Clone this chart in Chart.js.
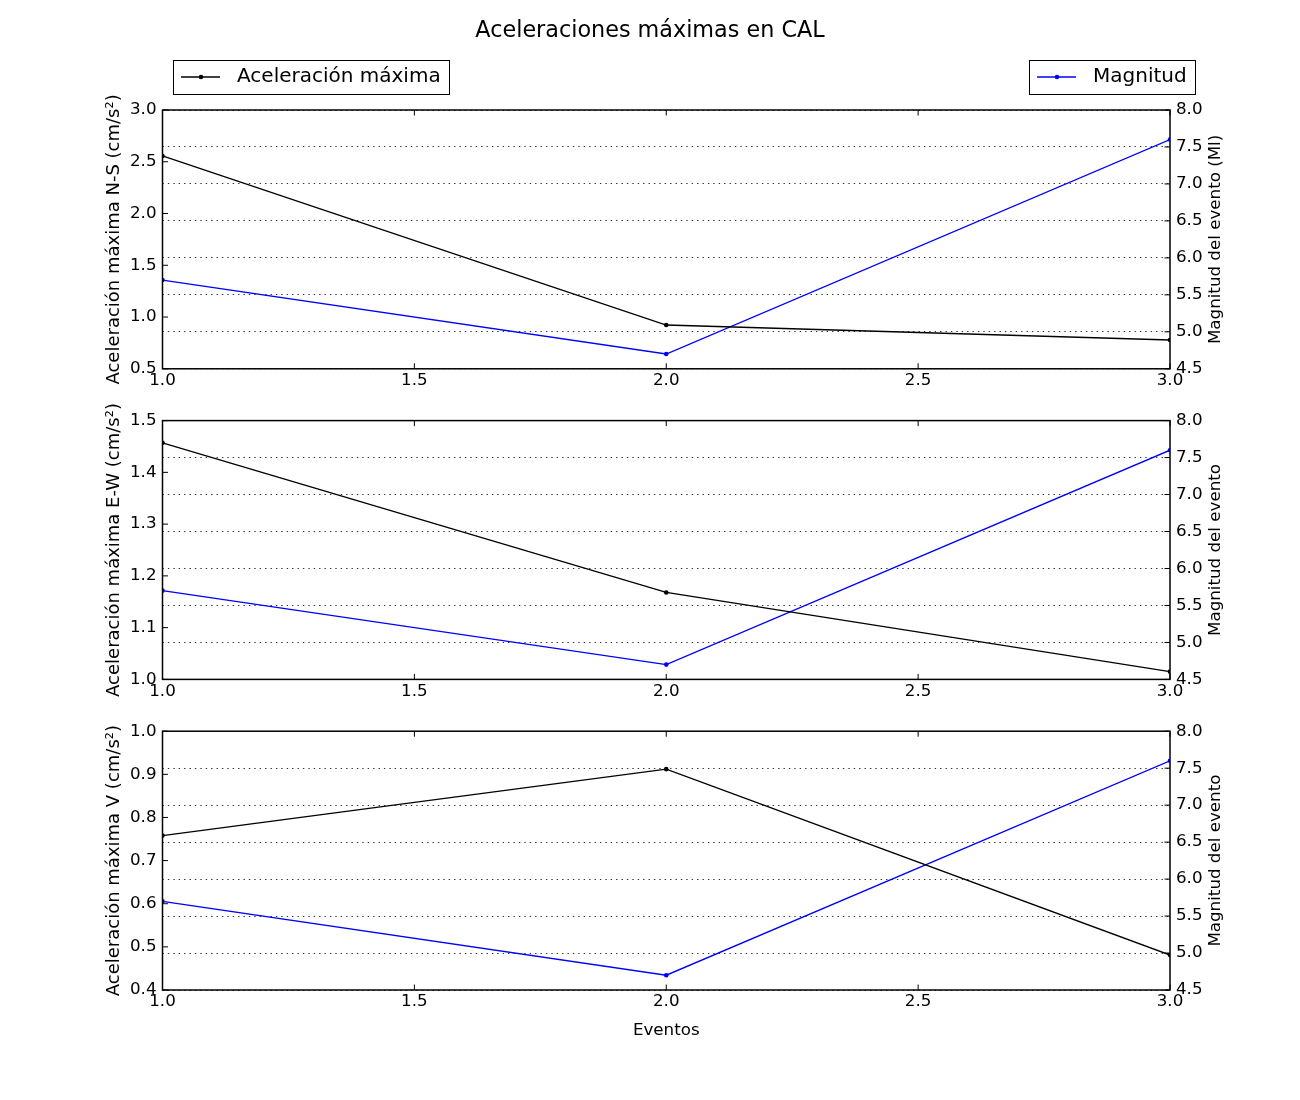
<!DOCTYPE html>
<html lang="es">
  <head>
    <meta charset="UTF-8" />
    <title>Aceleraciones máximas en CAL</title>
    <script src="https://cdn.jsdelivr.net/npm/chart.js@4"></script>
    <style>
      body { margin: 0; background: #fff; }
      #wrap { position: relative; width: 1300px; height: 1100px; }
      canvas { position: absolute; left: 0; }
    </style>
  </head>
  <body>
    <div id="wrap">
      <canvas id="chartNS" width="1300" height="400" style="top:0px"></canvas>
      <canvas id="chartEW" width="1300" height="310" style="top:400px"></canvas>
      <canvas id="chartV" width="1300" height="390" style="top:710px"></canvas>
    </div>

    <script>
      // datos
      const eventos = [1, 2, 3];
      const magnitud = [5.7, 4.7, 7.6];
      const accNS = [2.556, 0.923, 0.778];
      const accEW = [1.457, 1.168, 1.015];
      const accV = [0.758, 0.912, 0.481];

      const FONT = "'DejaVu Sans', sans-serif";
      const LEFT = 162.5;
      const RIGHT = 1170;

      // marco negro + ticks hacia dentro (estilo matplotlib clasico)
      const framePlugin = {
        id: "frame",
        afterDraw(chart) {
          const { ctx, chartArea: a, scales } = chart;
          const len = 5.5;
          ctx.save();
          ctx.strokeStyle = "#000";
          ctx.lineWidth = 1;
          ctx.beginPath();
          scales.x.ticks.forEach(t => {
            const px = scales.x.getPixelForValue(t.value);
            ctx.moveTo(px, a.bottom);
            ctx.lineTo(px, a.bottom - len);
            ctx.moveTo(px, a.top);
            ctx.lineTo(px, a.top + len);
          });
          scales.y.ticks.forEach(t => {
            const py = scales.y.getPixelForValue(t.value);
            ctx.moveTo(a.left, py);
            ctx.lineTo(a.left + len, py);
          });
          scales.y2.ticks.forEach(t => {
            const py = scales.y2.getPixelForValue(t.value);
            ctx.moveTo(a.right, py);
            ctx.lineTo(a.right - len, py);
          });
          ctx.stroke();
          ctx.lineWidth = 1.5;
          ctx.strokeRect(a.left, a.top, a.right - a.left, a.bottom - a.top);

          // titulo del eje derecho, leido de abajo hacia arriba
          const label = chart.options.plugins.frame.rightTitle;
          ctx.translate(1216, (a.top + a.bottom) / 2);
          ctx.rotate(-Math.PI / 2);
          ctx.fillStyle = "#000";
          ctx.font = "16.7px " + FONT;
          ctx.textAlign = "center";
          ctx.textBaseline = "middle";
          ctx.fillText(label, 0, 0);
          ctx.restore();
        }
      };

      // titulo y leyendas del primer panel
      const headerPlugin = {
        id: "header",
        afterDraw(chart) {
          const ctx = chart.ctx;
          ctx.save();
          ctx.fillStyle = "#000";
          ctx.font = "22.3px " + FONT;
          ctx.textAlign = "center";
          ctx.textBaseline = "middle";
          ctx.fillText("Aceleraciones máximas en CAL", 650, 31);

          const drawLegend = (x0, x1, text, color) => {
            ctx.lineWidth = 1;
            ctx.strokeStyle = "#000";
            ctx.fillStyle = "#fff";
            ctx.fillRect(x0, 60.5, x1 - x0, 34);
            ctx.strokeRect(x0 + 0.5, 60.5, x1 - x0, 34);
            ctx.strokeStyle = color;
            ctx.lineWidth = 1.3;
            ctx.beginPath();
            ctx.moveTo(x0 + 8, 77);
            ctx.lineTo(x0 + 47, 77);
            ctx.stroke();
            ctx.fillStyle = color;
            ctx.beginPath();
            ctx.arc(x0 + 28, 77, 2.3, 0, Math.PI * 2);
            ctx.fill();
            ctx.fillStyle = "#000";
            ctx.font = "20px " + FONT;
            ctx.textAlign = "left";
            ctx.fillText(text, x0 + 64, 77);
          };
          drawLegend(173, 449, "Aceleración máxima", "#000000");
          drawLegend(1029, 1195, "Magnitud", "#0000ff");
          ctx.restore();
        }
      };

      function makePanel(id, acc, yMin, yMax, yStep, yTitle, rightTitle, top, bottom, canvasH, xTitle) {
        const ctx = document.getElementById(id).getContext("2d");
        const plugins = [framePlugin];
        if (id === "chartNS") plugins.push(headerPlugin);
        return new Chart(ctx, {
          type: "line",
          data: {
            datasets: [
              {
                label: "Aceleración máxima",
                data: eventos.map((e, i) => ({ x: e, y: acc[i] })),
                yAxisID: "y",
                borderColor: "#000000",
                backgroundColor: "#000000",
                borderWidth: 1.3,
                pointRadius: 2.3,
                pointBorderWidth: 0
              },
              {
                label: "Magnitud",
                data: eventos.map((e, i) => ({ x: e, y: magnitud[i] })),
                yAxisID: "y2",
                borderColor: "#0000ff",
                backgroundColor: "#0000ff",
                borderWidth: 1.3,
                pointRadius: 2.3,
                pointBorderWidth: 0
              }
            ]
          },
          options: {
            responsive: false,
            animation: false,
            events: [],
            layout: { padding: { top: top, left: 0, right: 0, bottom: 0 } },
            plugins: {
              legend: { display: false },
              tooltip: { enabled: false },
              frame: { rightTitle: rightTitle }
            },
            scales: {
              x: {
                type: "linear",
                min: 1,
                max: 3,
                ticks: {
                  stepSize: 0.5,
                  padding: 2,
                  color: "#000",
                  font: { family: FONT, size: 16.7 },
                  callback: v => v.toFixed(1)
                },
                grid: { display: false, drawTicks: false },
                border: { display: false },
                title: {
                  display: !!xTitle,
                  text: xTitle || "",
                  color: "#000",
                  font: { family: FONT, size: 16.7 },
                  padding: { top: 0, bottom: canvasH - bottom - 39 - 12 }
                },
                afterFit: s => { s.height = canvasH - bottom; }
              },
              y: {
                position: "left",
                min: yMin,
                max: yMax,
                ticks: {
                  stepSize: yStep,
                  padding: 6,
                  color: "#000",
                  font: { family: FONT, size: 16.7 },
                  callback: v => v.toFixed(1)
                },
                grid: { drawOnChartArea: false, drawTicks: false },
                border: { display: false },
                title: {
                  display: true,
                  text: yTitle,
                  color: "#000",
                  font: { family: FONT, size: 18 },
                  padding: { top: 104, bottom: 0 }
                },
                afterFit: s => { s.width = LEFT; }
              },
              y2: {
                position: "right",
                min: 4.5,
                max: 8,
                ticks: {
                  stepSize: 0.5,
                  padding: 6,
                  color: "#000",
                  font: { family: FONT, size: 16.7 },
                  callback: v => v.toFixed(1)
                },
                grid: { drawOnChartArea: true, drawTicks: false, color: "#000", lineWidth: 0.8 },
                border: { display: false, dash: [1.4, 4] },
                afterFit: s => { s.width = 1300 - RIGHT; }
              }
            }
          },
          plugins: plugins
        });
      }

      makePanel("chartNS", accNS, 0.5, 3.0, 0.5, "Aceleración máxima N-S (cm/s²)",
        "Magnitud del evento (Ml)", 110, 368.8, 400, null);
      makePanel("chartEW", accEW, 1.0, 1.5, 0.1, "Aceleración máxima E-W (cm/s²)",
        "Magnitud del evento", 20.6, 279.4, 310, null);
      makePanel("chartV", accV, 0.4, 1.0, 0.1, "Aceleración máxima V (cm/s²)",
        "Magnitud del evento", 21.2, 280, 390, "Eventos");
    </script>
  </body>
</html>
